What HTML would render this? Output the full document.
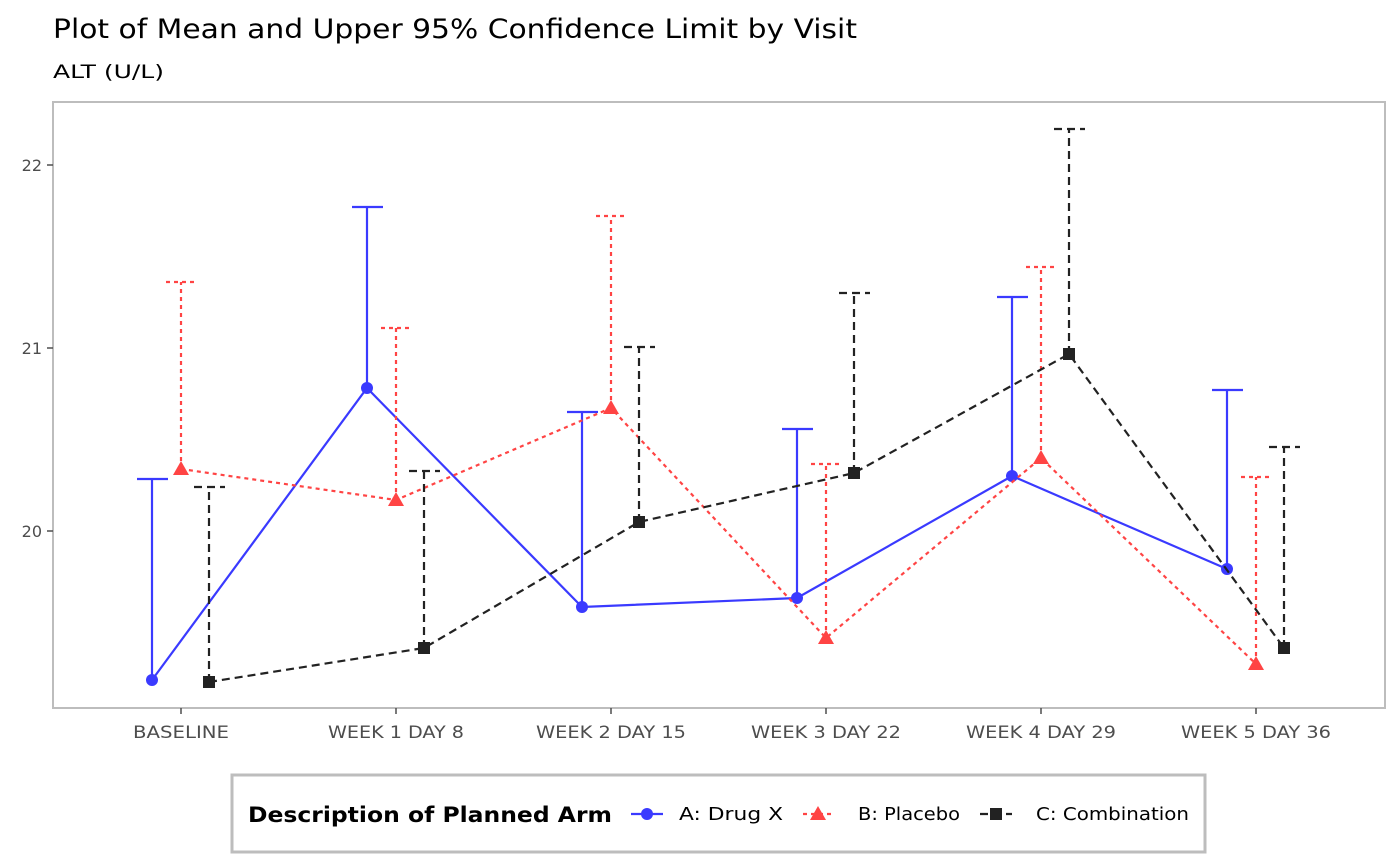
<!DOCTYPE html>
<html><head><style>body{margin:0;background:#fff}svg{display:block}</style></head><body>
<svg width="1400" height="866" xmlns="http://www.w3.org/2000/svg" font-family="'DejaVu Sans','Liberation Sans',sans-serif">
<text x="53" y="38" font-size="27" fill="#000" textLength="804" lengthAdjust="spacingAndGlyphs">Plot of Mean and Upper 95% Confidence Limit by Visit</text>
<text x="53" y="78" font-size="19" fill="#000" textLength="111" lengthAdjust="spacingAndGlyphs">ALT (U/L)</text>
<rect x="53" y="102" width="1332" height="606" fill="#fff" stroke="#bdbdbd" stroke-width="2"/>
<g font-size="16" fill="#4d4d4d" text-anchor="end">
<text x="42" y="171">22</text><text x="42" y="354">21</text><text x="42" y="537">20</text></g>
<g stroke="#4d4d4d" stroke-width="1.5"><line x1="47" x2="53" y1="165" y2="165"/><line x1="47" x2="53" y1="348" y2="348"/><line x1="47" x2="53" y1="531" y2="531"/>
<line x1="181" x2="181" y1="708" y2="714"/><line x1="396" x2="396" y1="708" y2="714"/><line x1="611" x2="611" y1="708" y2="714"/><line x1="826" x2="826" y1="708" y2="714"/><line x1="1041" x2="1041" y1="708" y2="714"/><line x1="1256" x2="1256" y1="708" y2="714"/></g>
<g font-size="17" fill="#4d4d4d" text-anchor="middle">
<text x="181" y="738" textLength="96" lengthAdjust="spacingAndGlyphs">BASELINE</text><text x="396" y="738" textLength="136" lengthAdjust="spacingAndGlyphs">WEEK 1 DAY 8</text><text x="611" y="738" textLength="150" lengthAdjust="spacingAndGlyphs">WEEK 2 DAY 15</text><text x="826" y="738" textLength="150" lengthAdjust="spacingAndGlyphs">WEEK 3 DAY 22</text><text x="1041" y="738" textLength="150" lengthAdjust="spacingAndGlyphs">WEEK 4 DAY 29</text><text x="1256" y="738" textLength="150" lengthAdjust="spacingAndGlyphs">WEEK 5 DAY 36</text></g>
<!-- A -->
<g stroke="#3a3aff" stroke-width="2.2" fill="none">
<path d="M152 680V479M137 479H168M367 388V207M352 207H383M582 607V412M567 412H598M797 598V429M782 429H813M1012 476V297M997 297H1028M1227 569V390M1212 390H1243"/>
<polyline points="152,680 367,388 582,607 797,598 1012,476 1227,569"/></g>
<g fill="#3a3aff"><circle cx="152" cy="680" r="6"/><circle cx="367" cy="388" r="6"/><circle cx="582" cy="607" r="6"/><circle cx="797" cy="598" r="6"/><circle cx="1012" cy="476" r="6"/><circle cx="1227" cy="569" r="6"/></g>
<!-- B -->
<g stroke="#ff4444" stroke-width="2.2" fill="none" stroke-dasharray="4,4">
<path d="M181 469V282M166 282H197M396 500V328M381 328H412M611 408V216M596 216H627M826 638V464M811 464H842M1041 458V267M1026 267H1057M1256 664V477M1241 477H1272"/>
<polyline points="181,469 396,500 611,408 826,638 1041,458 1256,664"/></g>
<g fill="#ff4444"><path d="M181 461l8 14h-16z"/><path d="M396 492l8 14h-16z"/><path d="M611 400l8 14h-16z"/><path d="M826 630l8 14h-16z"/><path d="M1041 450l8 14h-16z"/><path d="M1256 656l8 14h-16z"/></g>
<!-- C -->
<g stroke="#222" stroke-width="2.2" fill="none" stroke-dasharray="8,5">
<path d="M209 682V487M194 487H225M424 648V471M409 471H440M639 522V347M624 347H655M854 473V293M839 293H870M1069 354V129M1054 129H1085M1284 648V447M1269 447H1300"/>
<polyline points="209,682 424,648 639,522 854,473 1069,354 1284,648"/></g>
<g fill="#222"><rect x="203" y="676" width="12" height="12"/><rect x="418" y="642" width="12" height="12"/><rect x="633" y="516" width="12" height="12"/><rect x="848" y="467" width="12" height="12"/><rect x="1063" y="348" width="12" height="12"/><rect x="1278" y="642" width="12" height="12"/></g>
<!-- legend -->
<rect x="232" y="775" width="973" height="77" fill="#fff" stroke="#bdbdbd" stroke-width="3"/>
<text x="248" y="822" font-size="21" font-weight="bold" fill="#000" textLength="364" lengthAdjust="spacingAndGlyphs">Description of Planned Arm</text>
<line x1="631" x2="663" y1="814" y2="814" stroke="#3a3aff" stroke-width="2.2"/><circle cx="647" cy="814" r="6" fill="#3a3aff"/>
<text x="679" y="820" font-size="18" fill="#000" textLength="104" lengthAdjust="spacingAndGlyphs">A: Drug X</text>
<line x1="803" x2="835" y1="814" y2="814" stroke="#ff4444" stroke-width="2.2" stroke-dasharray="4,4"/><path d="M818 806l8 14h-16z" fill="#ff4444"/>
<text x="858" y="820" font-size="18" fill="#000" textLength="102" lengthAdjust="spacingAndGlyphs">B: Placebo</text>
<line x1="980" x2="1012" y1="814" y2="814" stroke="#222" stroke-width="2.2" stroke-dasharray="8,5"/><rect x="990" y="808" width="12" height="12" fill="#222"/>
<text x="1036" y="820" font-size="18" fill="#000" textLength="153" lengthAdjust="spacingAndGlyphs">C: Combination</text>
</svg>
</body></html>
